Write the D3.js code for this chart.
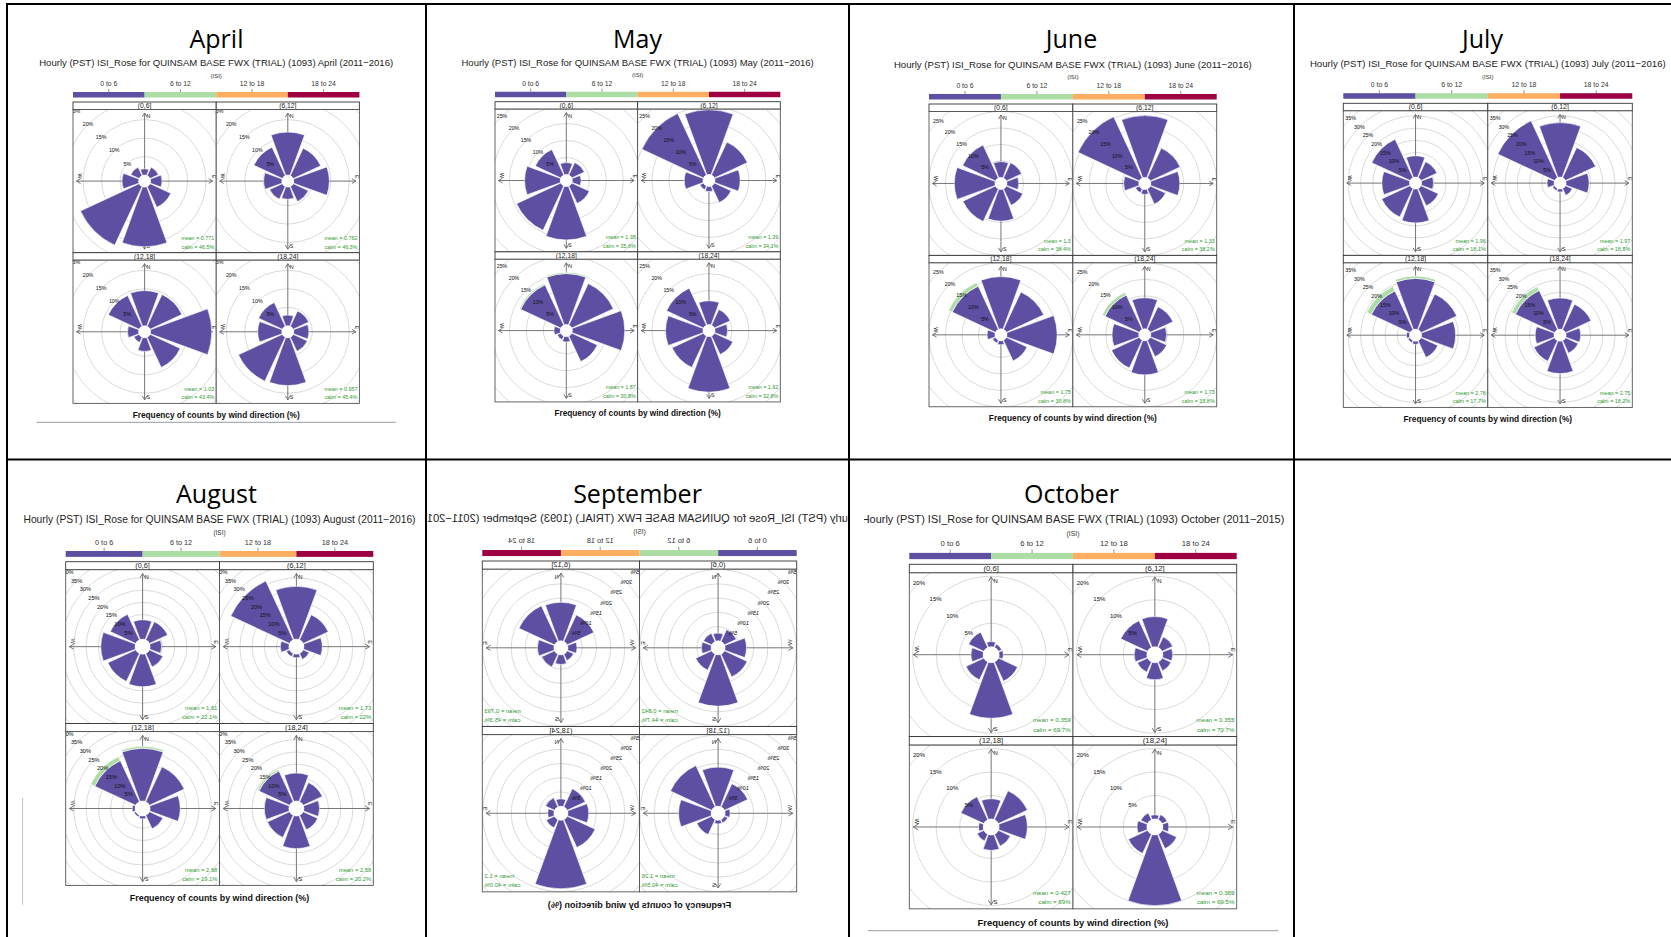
<!DOCTYPE html>
<html>
<head>
<meta charset="utf-8">
<script src="https://cdn.jsdelivr.net/npm/d3@7"></script>
<style>
  html, body { margin: 0; padding: 0; background: #fff; }
  svg { display: block; }
</style>
</head>
<body>
<svg id="chart" width="1671" height="937"></svg>
<script>
// ---------------- data ----------------
const months = ["April", "May", "June", "July", "August", "September", "October"];
const yearSpans = ["2011\u22122016", "2011\u22122016", "2011\u22122016", "2011\u22122016",
                   "2011\u22122016", "2011\u22122016", "2011\u22122015"];
const hourBins = ["(0,6]", "(6,12]", "(12,18]", "(18,24]"];
const isiBins = ["0 to 6", "6 to 12", "12 to 18", "18 to 24"];
const isiColours = ["#5E4FA2", "#ABDDA4", "#FDAE61", "#9E0142"];
const directions = ["N", "NE", "E", "SE", "S", "SW", "W", "NW"];

// frequency (%) of ISI 0 to 6 by wind direction, one row per hour bin
const lowApril = [
  [1.7, 2.5, 3.1, 6.2, 16.1, 17.5, 4.5, 2.5],
  [11.6, 8.2, 9.6, 4.5, 3.3, 3.8, 4.9, 8.5],
  [9.5, 9.5, 16.5, 9.0, 3.7, 1.6, 3.0, 9.2],
  [2.9, 4.6, 4.1, 4.2, 12.9, 13.1, 6.5, 7.1]
];
const lowMay = [
  [3.5, 4.1, 2.6, 5.7, 15.7, 14.4, 10.5, 8.3],
  [19.0, 10.7, 7.4, 5.4, 1.5, 1.2, 5.5, 20.0],
  [15.0, 13.5, 15.4, 8.3, 1.6, 1.2, 1.9, 13.1],
  [7.0, 5.1, 3.7, 6.0, 16.3, 10.2, 11.0, 12.0]
];
const lowJune = [
  [4.8, 5.1, 3.6, 5.5, 9.6, 10.9, 12.3, 11.0],
  [18.7, 10.0, 8.8, 5.1, 1.5, 1.3, 4.6, 20.5],
  [15.8, 12.5, 15.2, 6.9, 1.2, 1.0, 2.4, 14.5],
  [9.4, 7.6, 4.8, 5.5, 10.3, 9.3, 8.1, 11.5]
];
const lowJuly = [
  [8.7, 7.2, 4.9, 7.8, 13.8, 12.8, 11.3, 17.3],
  [22.2, 13.6, 9.4, 3.1, 1.2, 1.0, 2.9, 25.6],
  [20.7, 16.1, 13.9, 7.6, 1.3, 1.0, 1.3, 17.5],
  [12.7, 11.5, 6.0, 5.7, 13.2, 9.3, 7.7, 17.7]
];
const lowAugust = [
  [7.9, 8.2, 4.7, 6.1, 13.3, 12.6, 14.0, 11.5],
  [21.5, 11.3, 7.5, 2.7, 1.5, 1.5, 3.5, 26.5],
  [21.5, 15.7, 12.3, 6.1, 1.2, 0.8, 1.2, 18.5],
  [11.4, 8.6, 6.4, 6.5, 13.3, 10.0, 10.0, 13.8]
];
const lowSeptember = [
  [2.7, 3.2, 3.4, 6.2, 18.0, 8.8, 7.5, 4.6],
  [13.5, 13.8, 5.8, 5.0, 3.4, 2.5, 3.2, 10.3],
  [13.7, 16.0, 11.4, 5.8, 1.3, 1.3, 1.8, 9.0],
  [2.6, 3.5, 2.2, 3.2, 24.0, 10.8, 7.3, 7.0]
];
const lowOctober = [
  [1.1, 0.8, 0.9, 4.5, 11.8, 4.2, 2.6, 3.6],
  [6.4, 2.5, 2.1, 2.1, 3.6, 2.4, 2.7, 6.3],
  [4.3, 6.8, 6.0, 2.8, 3.3, 1.6, 1.0, 5.4],
  [0.9, 1.2, 1.3, 3.4, 15.0, 4.5, 2.1, 1.6]
];

// frequency (%) of ISI 6 to 12 stacked on top of the 0 to 6 band
const midNone = [
  [0, 0, 0, 0, 0, 0, 0, 0], [0, 0, 0, 0, 0, 0, 0, 0],
  [0, 0, 0, 0, 0, 0, 0, 0], [0, 0, 0, 0, 0, 0, 0, 0]
];
const midMay = [
  [0, 0, 0, 0, 0, 0, 0, 0], [0, 0, 0, 0, 0, 0, 0, 0],
  [0.4, 0, 0, 0, 0, 0, 0, 0.4], [0, 0, 0, 0, 0, 0, 0, 0]
];
const midJune = [
  [0, 0, 0, 0, 0, 0, 0, 0], [0, 0, 0, 0, 0, 0, 0, 0],
  [0, 0, 0, 0, 0, 0, 0, 1.2], [0, 0, 0, 0, 0, 0, 0, 0.9]
];
const midJuly = [
  [0, 0, 0, 0, 0, 0, 0, 0], [0, 0, 0, 0, 0, 0, 0, 0],
  [1.0, 0, 0, 0, 0, 0, 0, 2.0], [0, 0, 0, 0, 0, 0, 0, 1.7]
];
const midAugust = [
  [0, 0, 0, 0, 0, 0, 0, 0], [0, 0, 0, 0, 0, 0, 0, 0],
  [0.8, 0, 0, 0, 0, 0, 0, 1.8], [0, 0, 0, 0, 0, 0, 0, 0.8]
];

// panel statistics (mean ISI and calm share) per hour bin
const meanApril = ["0.771", "0.782", "1.03", "0.957"];
const calmApril = ["46.5%", "46.3%", "43.4%", "45.4%"];
const meanMay = ["1.38", "1.39", "1.87", "1.92"];
const calmMay = ["35.6%", "34.1%", "30.8%", "32.8%"];
const meanJune = ["1.3", "1.33", "1.75", "1.73"];
const calmJune = ["38.4%", "38.2%", "30.8%", "33.8%"];
const meanJuly = ["1.96", "1.97", "2.78", "2.75"];
const calmJuly = ["18.1%", "18.5%", "17.7%", "18.2%"];
const meanAugust = ["1.61", "1.73", "2.68", "2.58"];
const calmAugust = ["22.1%", "22%", "19.1%", "20.2%"];
const meanSeptember = ["0.842", "0.793", "1.26", "1.2"];
const calmSeptember = ["44.7%", "45.3%", "40.5%", "40.0%"];
const meanOctober = ["0.359", "0.355", "0.427", "0.389"];
const calmOctober = ["69.7%", "70.7%", "69%", "69.5%"];

const lowFreq = [lowApril, lowMay, lowJune, lowJuly, lowAugust, lowSeptember, lowOctober];
const midFreq = [midNone, midMay, midJune, midJuly, midAugust, midNone, midNone];
const meanIsi = [meanApril, meanMay, meanJune, meanJuly, meanAugust, meanSeptember, meanOctober];
const calmShare = [calmApril, calmMay, calmJune, calmJuly, calmAugust, calmSeptember, calmOctober];
const ringStep = 5;

// ---------------- layout ----------------
// cell: table cell bounds; gx/gy/gw: left, top and width of the 2x2 panel grid;
// k: pixels per percent on the radial axis; hole: radius of the calm hole
const layout = [
  { cell: [7, 4, 426, 459.5],     gx: 73,     gy: 102,   gw: 286.4, k: 3.7,  hole: 6,   baseRule: true },
  { cell: [426, 4, 849, 459.5],   gx: 495,    gy: 101.7, gw: 285.3, k: 3.4,  hole: 6 },
  { cell: [849, 4, 1294, 459.5],  gx: 929,    gy: 104,   gw: 287.7, k: 3.3,  hole: 6 },
  { cell: [1294, 4, 1671, 459.5], gx: 1343.3, gy: 103.3, gw: 289,   k: 2.45, hole: 6 },
  { cell: [7, 459.5, 426, 937],   gx: 65.7,   gy: 561.7, gw: 307.6, k: 2.45, hole: 7.5, sideRule: true },
  { cell: [426, 459.5, 849, 937], gx: 482.3,  gy: 561,   gw: 314.4, k: 2.85, hole: 7,   mirror: true, subScale: 1.06 },
  { cell: [849, 459.5, 1294, 937], gx: 909.3, gy: 564.3, gw: 327.4, k: 4.7,  hole: 8,   clipLeft: 864, baseRule: true }
];
const titleBaselines = [47.5, 503.3];
const rFont = "'Liberation Sans', Arial, Helvetica, sans-serif";

const svg = d3.select("#chart");
const defs = svg.append("defs");

// ---------------- table rules ----------------
const rules = svg.append("g").attr("stroke", "#000").attr("stroke-width", 2);
rules.append("line").attr("x1", 6).attr("x2", 1671).attr("y1", 4).attr("y2", 4);
rules.append("line").attr("x1", 6).attr("x2", 1671).attr("y1", 459.5).attr("y2", 459.5);
[7, 426, 849, 1294].forEach(x =>
  rules.append("line").attr("x1", x).attr("x2", x).attr("y1", 3).attr("y2", 937));

// ---------------- one wind-rose panel ----------------
const arc = d3.arc()
  .innerRadius(d => d.r0).outerRadius(d => d.r1)
  .startAngle(d => d.a0).endAngle(d => d.a1);

function drawRose(g, px, py, size, s, L, low, mid, meanTxt, calmTxt, clipId) {
  const cx = px + size / 2, cy = py + size / 2;
  const radial = d3.scaleLinear().domain([0, 10]).range([L.hole, L.hole + 10 * L.k]);
  const half = 20 * Math.PI / 180;

  defs.append("clipPath").attr("id", clipId)
    .append("rect").attr("x", px).attr("y", py).attr("width", size).attr("height", size);
  const body = g.append("g").attr("clip-path", `url(#${clipId})`);
  body.append("rect").attr("x", px).attr("y", py).attr("width", size).attr("height", size).attr("fill", "#fff");

  // reference rings
  const rings = d3.range(ringStep, 200, ringStep).filter(p => radial(p) < size * 0.75);
  body.selectAll(null).data(rings).join("circle")
    .attr("cx", cx).attr("cy", cy).attr("r", p => radial(p))
    .attr("fill", "none").attr("stroke", "#d6d6d6").attr("stroke-width", 0.9);

  // compass axes with open arrowheads
  const reach = size / 2 - 3.5 * s, ah = 4 * s, aw = 2.4 * s;
  const ax = body.append("g").attr("stroke", "#666").attr("stroke-width", 0.9).attr("fill", "none");
  ax.append("line").attr("x1", cx).attr("x2", cx).attr("y1", cy - reach).attr("y2", cy + reach);
  ax.append("line").attr("x1", cx - reach).attr("x2", cx + reach).attr("y1", cy).attr("y2", cy);
  ax.append("path").attr("d", `M${cx - aw},${cy - reach + ah}L${cx},${cy - reach}L${cx + aw},${cy - reach + ah}`);
  ax.append("path").attr("d", `M${cx - aw},${cy + reach - ah}L${cx},${cy + reach}L${cx + aw},${cy + reach - ah}`);
  ax.append("path").attr("d", `M${cx - reach + ah},${cy - aw}L${cx - reach},${cy}L${cx - reach + ah},${cy + aw}`);
  ax.append("path").attr("d", `M${cx + reach - ah},${cy - aw}L${cx + reach},${cy}L${cx + reach - ah},${cy + aw}`);

  const lab = body.append("g").attr("font-family", rFont).attr("font-size", 5.3 * s).attr("fill", "#222");
  lab.append("text").attr("x", cx + 2 * s).attr("y", cy - reach + 5 * s).text("N");
  lab.append("text").attr("x", cx + 2 * s).attr("y", cy + reach - 1 * s).text("S");
  lab.append("text").attr("transform", `translate(${cx - reach + 1.2 * s},${cy - 2.5 * s}) rotate(90)`)
    .attr("text-anchor", "end").text("W");
  lab.append("text").attr("transform", `translate(${cx + reach - 1.2 * s},${cy - 2.5 * s}) rotate(90)`)
    .attr("text-anchor", "end").text("E");

  // sectors: 0 to 6 band, then 6 to 12 band stacked outside it
  const sectors = [];
  directions.forEach((d, i) => {
    const a = i * 45 * Math.PI / 180;
    sectors.push({ r0: radial(0), r1: radial(low[i]), a0: a - half, a1: a + half, c: isiColours[0] });
    if (mid[i] > 0)
      sectors.push({ r0: radial(low[i]), r1: radial(low[i] + mid[i]), a0: a - half, a1: a + half, c: isiColours[1] });
  });
  body.append("g").attr("transform", `translate(${cx},${cy})`)
    .selectAll("path").data(sectors).join("path")
    .attr("d", arc).attr("fill", d => d.c)
    .attr("stroke", "#fff").attr("stroke-width", 0.6);

  body.append("circle").attr("cx", cx).attr("cy", cy).attr("r", L.hole).attr("fill", "#fff");

  // ring labels along the north-west diagonal
  body.append("g").attr("font-family", rFont).attr("font-size", 5.3 * s).attr("fill", "#111")
    .attr("text-anchor", "middle")
    .selectAll("text").data(rings).join("text")
    .attr("x", p => cx - radial(p) * Math.SQRT1_2)
    .attr("y", p => cy - radial(p) * Math.SQRT1_2 + 1.8 * s)
    .text(p => p + "%");

  // panel statistics
  const st = body.append("g").attr("font-family", rFont).attr("font-size", 5.4 * s)
    .attr("fill", "#2f9a2f").attr("text-anchor", "end");
  st.append("text").attr("x", px + size - 2 * s).attr("y", py + size - 12.5 * s).text("mean = " + meanTxt);
  st.append("text").attr("x", px + size - 2 * s).attr("y", py + size - 4 * s).text("calm = " + calmTxt);

  g.append("rect").attr("x", px).attr("y", py).attr("width", size).attr("height", size)
    .attr("fill", "none").attr("stroke", "#555").attr("stroke-width", 0.9);
}

// ---------------- monthly figures ----------------
months.forEach((month, mi) => {
  const L = layout[mi];
  const s = L.gw / 286.6;
  const [x0, y0, x1, y1] = L.cell;
  const cx = L.gx + L.gw / 2;
  const strip = 7.5 * s, size = L.gw / 2;
  const gridH = 2 * (strip + size);

  // month heading
  svg.append("text").attr("x", (x0 + x1) / 2).attr("y", titleBaselines[mi < 4 ? 0 : 1])
    .attr("text-anchor", "middle").attr("font-family", "'Open Sans', sans-serif")
    .attr("font-size", 25).attr("fill", "#000").text(month);

  const clipId = "cell" + mi;
  const left = L.clipLeft || x0 + 1.5;
  defs.append("clipPath").attr("id", clipId).append("rect")
    .attr("x", left).attr("y", y0 + 1.5).attr("width", x1 - 1.5 - left).attr("height", y1 - y0 - 3);
  const outer = svg.append("g").attr("clip-path", `url(#${clipId})`);
  const fig = outer.append("g");
  if (L.mirror) fig.attr("transform", `translate(${2 * cx},0) scale(-1,1)`);

  // subtitle
  const subSize = 0.0334 * L.gw * (L.subScale || 1);
  fig.append("text").attr("x", cx).attr("y", L.gy - 39.5 * s + 0.36 * subSize)
    .attr("text-anchor", "middle").attr("font-family", rFont).attr("font-size", subSize)
    .attr("fill", "#222")
    .text(`Hourly (PST) ISI_Rose for QUINSAM BASE FWX (TRIAL) (1093) ${month} (${yearSpans[mi]})`);

  fig.append("text").attr("x", cx).attr("y", L.gy - 26.5 * s + 2 * s)
    .attr("text-anchor", "middle").attr("font-family", rFont).attr("font-size", 6 * s)
    .attr("fill", "#333").text("(ISI)");

  // colour key
  const key = d3.scaleBand().domain(isiBins).range([L.gx, L.gx + L.gw]);
  const barTop = L.gy - 10 * s, barH = 5.5 * s;
  fig.append("g").selectAll("rect").data(isiBins).join("rect")
    .attr("x", d => key(d)).attr("y", barTop).attr("width", key.bandwidth()).attr("height", barH)
    .attr("fill", (d, i) => isiColours[i]);
  fig.append("g").attr("stroke", "#666").attr("stroke-width", 0.7)
    .selectAll("line").data(isiBins).join("line")
    .attr("x1", d => key(d) + key.bandwidth() / 2).attr("x2", d => key(d) + key.bandwidth() / 2)
    .attr("y1", barTop - 3 * s).attr("y2", barTop);
  fig.append("g").attr("font-family", rFont).attr("font-size", 6.8 * s).attr("fill", "#333")
    .attr("text-anchor", "middle")
    .selectAll("text").data(isiBins).join("text")
    .attr("x", d => key(d) + key.bandwidth() / 2).attr("y", barTop - 6 * s).text(d => d);

  // 2x2 panels
  hourBins.forEach((bin, pi) => {
    const c = pi % 2, r = Math.floor(pi / 2);
    const px = L.gx + c * size;
    const sy = L.gy + r * (strip + size);
    fig.append("rect").attr("x", px).attr("y", sy).attr("width", size).attr("height", strip)
      .attr("fill", "#fff").attr("stroke", "#333").attr("stroke-width", 0.9);
    fig.append("text").attr("x", px + size / 2).attr("y", sy + strip - 1.6 * s)
      .attr("text-anchor", "middle").attr("font-family", rFont).attr("font-size", 6.8 * s)
      .attr("fill", "#222").text(bin);
    drawRose(fig, px, sy + strip, size, s, L, lowFreq[mi][pi], midFreq[mi][pi],
             meanIsi[mi][pi], calmShare[mi][pi], `p${mi}_${pi}`);
  });

  fig.append("text").attr("x", cx).attr("y", L.gy + gridH + 14.6 * s)
    .attr("text-anchor", "middle").attr("font-family", rFont).attr("font-weight", "bold")
    .attr("font-size", 8.3 * s).attr("fill", "#111")
    .text("Frequency of counts by wind direction (%)");

  if (L.baseRule) {
    fig.append("line").attr("x1", cx - 0.627 * L.gw).attr("x2", cx + 0.627 * L.gw)
      .attr("y1", L.gy + gridH + 19 * s).attr("y2", L.gy + gridH + 19 * s)
      .attr("stroke", "#a9b0b5").attr("stroke-width", 1.2);
  }
  if (L.sideRule) {
    fig.append("line").attr("x1", cx - 0.64 * L.gw).attr("x2", cx - 0.64 * L.gw)
      .attr("y1", L.gy + 0.73 * gridH).attr("y2", L.gy + gridH + 18 * s)
      .attr("stroke", "#c4c4c4").attr("stroke-width", 1);
  }
});
</script>
</body>
</html>
